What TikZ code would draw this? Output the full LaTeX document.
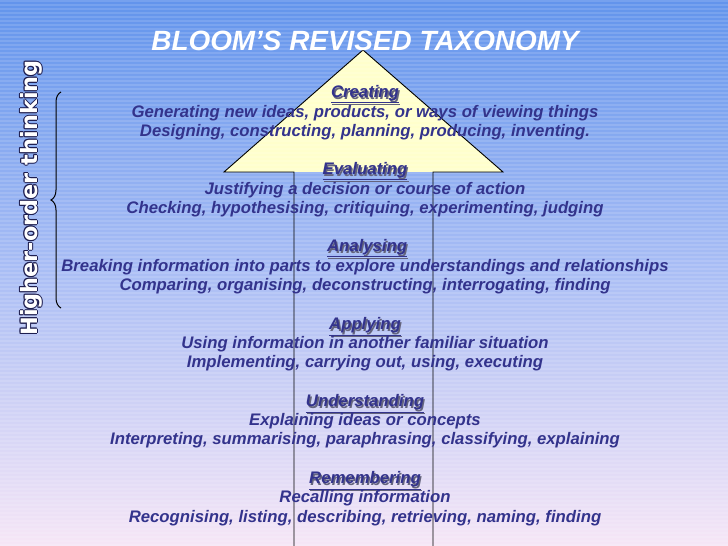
\documentclass[tikz,border=0pt]{standalone}
\usepackage{fontspec}
\setmainfont{Liberation Sans}
\newfontfamily\hofont{DejaVu Sans}
\usetikzlibrary{decorations.pathreplacing}
\definecolor{navytext}{RGB}{51,51,140}
\definecolor{bgtop}{RGB}{98,148,236}
\definecolor{bgmid}{RGB}{170,190,245}
\definecolor{bgbot}{RGB}{246,230,246}
\definecolor{headyellow}{RGB}{255,255,204}
\definecolor{shadowgray}{RGB}{100,100,125}
\definecolor{hooutline}{RGB}{30,30,80}
\tikzset{
  titletext/.style={font=\fontsize{28}{30}\selectfont\bfseries\itshape, text=white},
  headtext/.style={font=\fontsize{16.8}{18}\selectfont\bfseries\itshape, text=navytext, inner sep=0pt},
  headshadow/.style={headtext, text=shadowgray},
  bodytext/.style={font=\fontsize{16.8}{18}\selectfont\bfseries\itshape, text=navytext, inner sep=0pt},
  hotext/.style={font=\fontsize{22.5}{24}\selectfont\hofont\bfseries, rotate=90, inner sep=0pt},
  arrowline/.style={draw=black, line width=0.9bp},
}
\begin{document}
\begin{tikzpicture}[x=1bp,y=-1bp]
\useasboundingbox (0,0) rectangle (728,546);
% background
\fill[top color=bgtop, bottom color=bgbot, middle color=bgmid] (0,0) rectangle (728,546);
% arrow head fill
\fill[headyellow] (224,172) -- (363,50) -- (503,172) -- cycle;
% stripes
\foreach \yy in {1,5,...,545} \draw[white, opacity=0.13, line width=1.4bp] (0,\yy) -- (728,\yy);
% arrow outline
\draw[arrowline, line join=miter] (294,546) -- (294,172) -- (224,172) -- (363,50) -- (503,172) -- (433,172) -- (433,546);
% title
\node[titletext] (title) at (365,41) {BLOOM’S REVISED TAXONOMY};
% levels
\node[headshadow] (creatings) at (366.3,95.8) {\underline{Creating}};
\node[headtext] (creating) at (365,94.5) {\underline{Creating}};
\node[bodytext] (c1) at (365,113) {Generating new ideas, products, or ways of viewing things};
\node[bodytext] (c2) at (365,132) {Designing, constructing, planning, producing, inventing.};

\node[headshadow] (evaluatings) at (366.3,172.8) {\underline{Evaluating}};
\node[headtext] (evaluating) at (365,171.5) {\underline{Evaluating}};
\node[bodytext] (e1) at (365,190) {Justifying a decision or course of action};
\node[bodytext] (e2) at (365,209) {Checking, hypothesising, critiquing, experimenting, judging};

\node[headshadow] (analysings) at (368.3,249.8) {\underline{Analysing}};
\node[headtext] (analysing) at (367,248.5) {\underline{Analysing}};
\node[bodytext] (a1) at (365,267) {Breaking information into parts to explore understandings and relationships};
\node[bodytext] (a2) at (365,286) {Comparing, organising, deconstructing, interrogating, finding};

\node[headshadow] (applyings) at (366.3,327.8) {\underline{Applying}};
\node[headtext] (applying) at (365,326.5) {\underline{Applying}};
\node[bodytext] (p1) at (365,344) {Using information in another familiar situation};
\node[bodytext] (p2) at (365,363) {Implementing, carrying out, using, executing};

\node[headshadow] (understandings) at (366.3,404.8) {\underline{Understanding}};
\node[headtext] (understanding) at (365,403.5) {\underline{Understanding}};
\node[bodytext] (u1) at (365,421) {Explaining ideas or concepts};
\node[bodytext] (u2) at (365,440) {Interpreting, summarising, paraphrasing, classifying, explaining};

\node[headshadow] (rememberings) at (366.3,481.8) {\underline{Remembering}};
\node[headtext] (remembering) at (365,480.5) {\underline{Remembering}};
\node[bodytext] (r1) at (365,498) {Recalling information};
\node[bodytext] (r2) at (365,518) {Recognising, listing, describing, retrieving, naming, finding};

% higher-order thinking (outlined text)
\foreach \dx/\dy [count=\i] in {1/0,-1/0,0/1,0/-1,0.8/0.8,-0.8/0.8,0.8/-0.8,-0.8/-0.8}
  \node[hotext, text=hooutline] (hoo\i) at (31+\dx,198+\dy) {Higher-order thinking};
\node[hotext, text=white] (ho) at (31,198) {Higher-order thinking};
% brace
\coordinate (bt) at (61,92);
\coordinate (bb) at (61,308);
\draw[black, line width=1bp, decorate, decoration={brace, amplitude=10bp}] (bb) -- (bt);
\end{tikzpicture}
\end{document}
